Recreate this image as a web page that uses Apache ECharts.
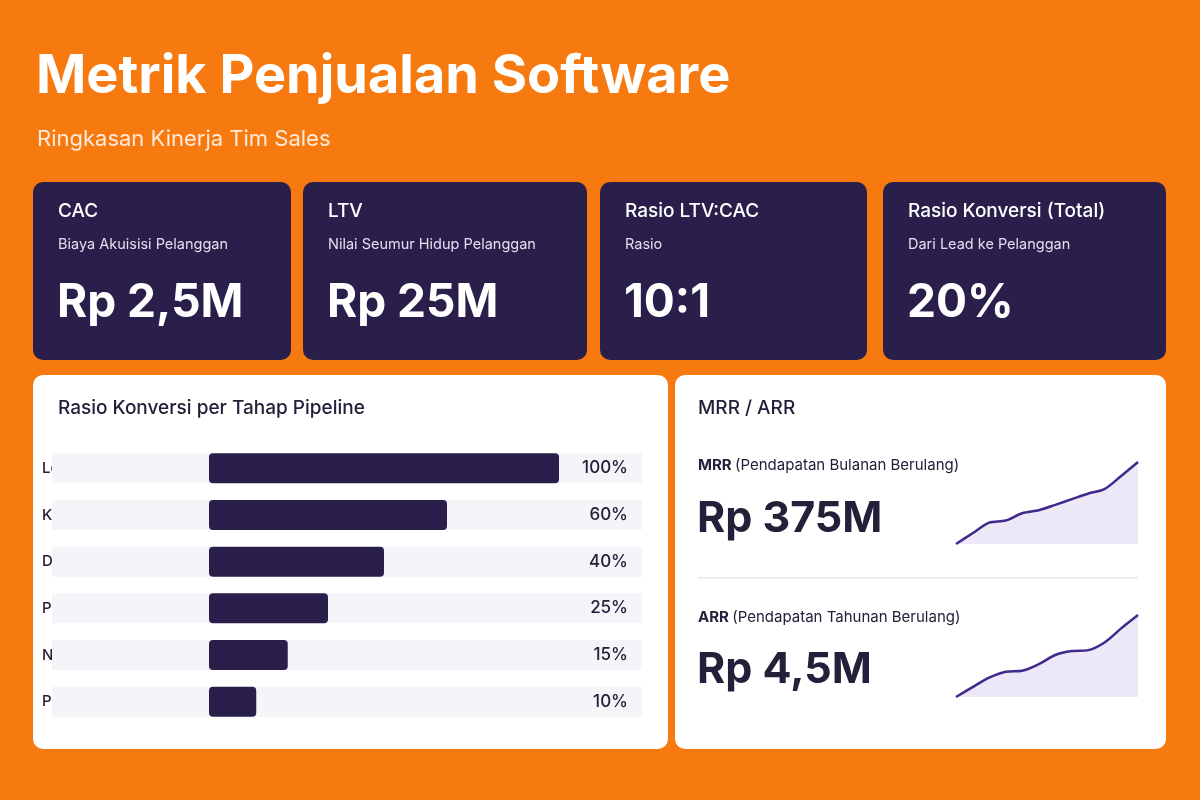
<!DOCTYPE html>
<html><head><meta charset="utf-8">
<script src="https://cdn.jsdelivr.net/npm/echarts@6/dist/echarts.min.js"></script>
<style>html,body{margin:0;padding:0;background:#F77A10}#c{width:1200px;height:800px}</style>
</head><body><div id="c"></div>
<script>
const kpiTitles = ['CAC', 'LTV', 'Rasio LTV:CAC', 'Rasio Konversi (Total)'];
const kpiSubs = ['Biaya Akuisisi Pelanggan', 'Nilai Seumur Hidup Pelanggan', 'Rasio', 'Dari Lead ke Pelanggan'];
const kpiValues = ['Rp 2,5M', 'Rp 25M', '10:1', '20%'];
const stages = ['Lead Masuk', 'Kualifikasi', 'Demo', 'Penawaran', 'Negosiasi', 'Pelanggan'];
const stagePct = [100, 60, 40, 25, 15, 10];
const stageBarLen = [100, 68, 50, 34, 22.5, 13.5];
const mrrTrend = [0, 32, 64, 70, 92, 101, 117, 134, 151, 165, 204, 245];
const arrTrend = [0, 30, 59, 77, 80, 100, 128, 140, 143, 167, 210, 250];
const mrrValue = 'Rp 375M';
const arrValue = 'Rp 4,5M';

const F = 'Inter, "Noto Sans", sans-serif';
const DARK = '#2A1F4B';
const TXT = '#25203A';
const chart = echarts.init(document.getElementById('c'));

const cards = [[33, 258], [303, 284], [600, 267], [883, 283]];
const g = [];
g.push({type:'text', left:36, top:50, style:{text:'Metrik Penjualan Software', fill:'#fff', font:'bold 54px '+F}});
g.push({type:'text', left:37, top:128, style:{text:'Ringkasan Kinerja Tim Sales', fill:'#FFE9D8', font:'22px '+F}});
cards.forEach((c, i) => {
  g.push({type:'rect', shape:{x:c[0], y:182, width:c[1], height:178, r:10}, style:{fill:DARK}, z:1});
  g.push({type:'text', x:c[0]+25, y:202, style:{text:kpiTitles[i], fill:'#fff', font:'500 19px '+F}, z:2});
  g.push({type:'text', x:c[0]+25, y:237, style:{text:kpiSubs[i], fill:'#E2DEEE', font:'14.5px '+F}, z:2});
  g.push({type:'text', x:c[0]+24, y:280, style:{text:kpiValues[i], fill:'#fff', font:'bold 46px '+F}, z:2});
});
g.push({type:'rect', shape:{x:33, y:375, width:635, height:374, r:10}, style:{fill:'#fff'}, z:0});
g.push({type:'rect', shape:{x:675, y:375, width:491, height:374, r:10}, style:{fill:'#fff'}, z:0});
g.push({type:'text', x:58, y:399, style:{text:'Rasio Konversi per Tahap Pipeline', fill:TXT, font:'500 19px '+F}, z:2});
g.push({type:'text', x:698, y:399, style:{text:'MRR / ARR', fill:TXT, font:'500 19px '+F}, z:2});
g.push({type:'text', x:698, y:458, style:{rich:{a:{fill:TXT, font:'bold 15px '+F}, b:{fill:TXT, font:'15px '+F}}, text:'{a|MRR} {b|(Pendapatan Bulanan Berulang)}'}, z:2});
g.push({type:'text', x:697, y:498, style:{text:mrrValue, fill:TXT, font:'bold 43px '+F}, z:2});
g.push({type:'rect', shape:{x:698, y:577, width:440, height:1.5}, style:{fill:'#E8E6EE'}, z:2});
g.push({type:'text', x:698, y:610, style:{rich:{a:{fill:TXT, font:'bold 15px '+F}, b:{fill:TXT, font:'15px '+F}}, text:'{a|ARR} {b|(Pendapatan Tahunan Berulang)}'}, z:2});
g.push({type:'text', x:697, y:649, style:{text:arrValue, fill:TXT, font:'bold 43px '+F}, z:2});

const xMin = -(209-52)/3.5, xMax = (642-209)/3.5;
const months = mrrTrend.map((_, i) => i);
chart.setOption({
  animation:false,
  graphic:g,
  grid:[
    {left:52, width:590, top:445, height:280},
    {left:956, width:182, top:462, height:83},
    {left:956, width:182, top:615, height:83}
  ],
  xAxis:[
    {gridIndex:0, type:'value', min:xMin, max:xMax, show:false},
    {gridIndex:1, type:'category', data:months, boundaryGap:false, show:false},
    {gridIndex:2, type:'category', data:months, boundaryGap:false, show:false}
  ],
  yAxis:[
    {gridIndex:0, type:'category', data:stages, inverse:true, axisLine:{show:false}, axisTick:{show:false},
     axisLabel:{inside:true, margin:-10, color:TXT, fontFamily:F, fontSize:15, fontWeight:500}},
    {gridIndex:1, type:'value', min:-3, max:245, show:false},
    {gridIndex:2, type:'value', min:-3, max:250, show:false}
  ],
  series:[
    {type:'custom', xAxisIndex:0, yAxisIndex:0, z:1, data:stagePct.map((v, i) => [i, v]),
     renderItem:(params, api) => {
       const p = api.coord([xMin, api.value(0)]);
       const q = api.coord([xMax, api.value(0)]);
       return {type:'group', children:[
         {type:'rect', shape:{x:p[0], y:p[1]-15, width:q[0]-p[0], height:30}, style:{fill:'#F5F4F9'}},
         {type:'text', x:q[0]-14, y:p[1], style:{text:api.value(1)+'%', fill:TXT, font:'500 17px '+F, align:'right', verticalAlign:'middle'}}
       ]};
     }, encode:{x:1, y:0}},
    {type:'bar', xAxisIndex:0, yAxisIndex:0, z:3, data:stageBarLen, barWidth:30,
     itemStyle:{color:'#2A1F4B', borderRadius:4}},
    {type:'line', xAxisIndex:1, yAxisIndex:1, data:mrrTrend, smooth:0.3, symbol:'none',
     lineStyle:{color:'#3F2A8C', width:2.5}, areaStyle:{color:'#ECE8F8', opacity:1}},
    {type:'line', xAxisIndex:2, yAxisIndex:2, data:arrTrend, smooth:0.3, symbol:'none',
     lineStyle:{color:'#3F2A8C', width:2.5}, areaStyle:{color:'#ECE8F8', opacity:1}}
  ]
});
</script></body></html>
